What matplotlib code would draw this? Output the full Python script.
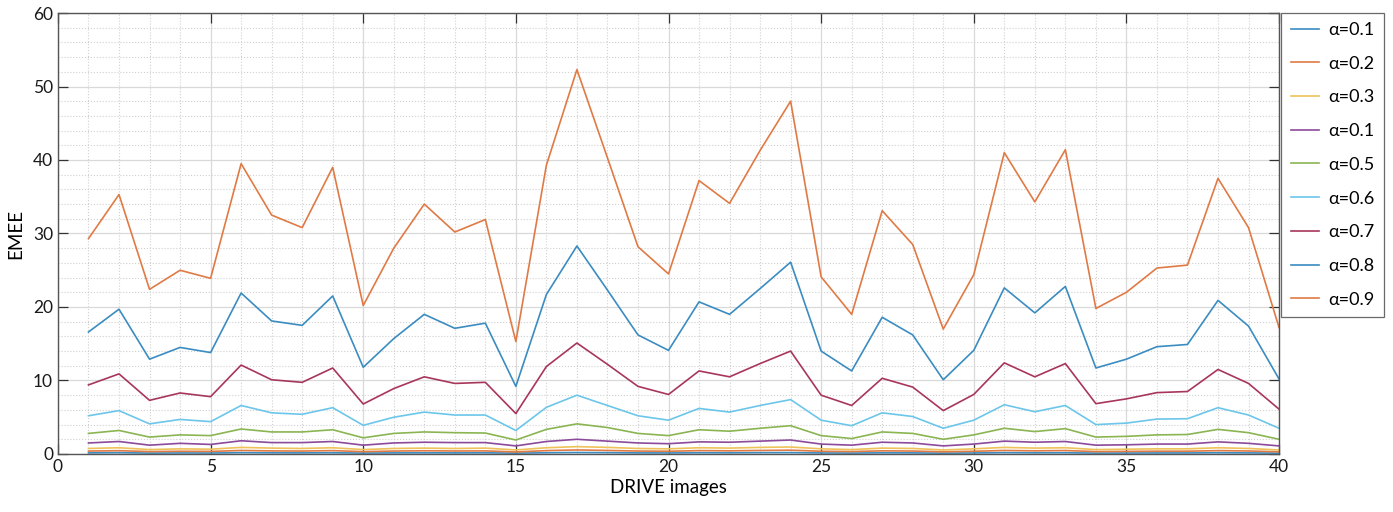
import numpy as np
import matplotlib
matplotlib.use("Agg")
import matplotlib.pyplot as plt
from matplotlib.ticker import MultipleLocator

plt.rcParams['font.family'] = ['Lato', 'DejaVu Sans']

# image index on the x axis
images = list(range(1, 41))

# EMEE per image for each alpha
a01 = [0.15, 0.18, 0.12, 0.14, 0.13, 0.18, 0.16, 0.15, 0.17, 0.12,
       0.15, 0.16, 0.15, 0.16, 0.11, 0.17, 0.20, 0.18, 0.15, 0.14,
       0.17, 0.16, 0.18, 0.19, 0.14, 0.12, 0.16, 0.15, 0.11, 0.14,
       0.18, 0.16, 0.17, 0.12, 0.13, 0.14, 0.14, 0.17, 0.15, 0.11]
a02 = [0.40, 0.45, 0.33, 0.37, 0.35, 0.48, 0.42, 0.40, 0.46, 0.32,
       0.40, 0.44, 0.41, 0.42, 0.28, 0.46, 0.55, 0.48, 0.40, 0.37,
       0.46, 0.43, 0.48, 0.52, 0.37, 0.33, 0.43, 0.40, 0.30, 0.37,
       0.48, 0.43, 0.47, 0.33, 0.35, 0.38, 0.38, 0.46, 0.41, 0.30]
a03 = [0.75, 0.85, 0.60, 0.70, 0.65, 0.90, 0.80, 0.75, 0.85, 0.60,
       0.75, 0.80, 0.75, 0.80, 0.55, 0.85, 1.00, 0.90, 0.75, 0.70,
       0.85, 0.80, 0.90, 0.95, 0.70, 0.60, 0.80, 0.75, 0.55, 0.70,
       0.90, 0.80, 0.85, 0.60, 0.65, 0.70, 0.70, 0.85, 0.75, 0.55]
a04 = [1.50, 1.70, 1.20, 1.45, 1.30, 1.80, 1.55, 1.55, 1.70, 1.20,
       1.50, 1.60, 1.55, 1.55, 1.10, 1.70, 2.00, 1.75, 1.50, 1.40,
       1.65, 1.60, 1.75, 1.90, 1.35, 1.20, 1.60, 1.50, 1.10, 1.35,
       1.75, 1.60, 1.70, 1.20, 1.25, 1.35, 1.35, 1.65, 1.45, 1.10]
a05 = [2.80, 3.20, 2.30, 2.60, 2.50, 3.40, 3.00, 3.00, 3.30, 2.20,
       2.80, 3.00, 2.90, 2.85, 1.90, 3.35, 4.10, 3.60, 2.80, 2.50,
       3.30, 3.10, 3.50, 3.85, 2.50, 2.10, 3.00, 2.80, 2.00, 2.60,
       3.50, 3.05, 3.45, 2.30, 2.40, 2.60, 2.65, 3.35, 2.90, 2.00]
a06 = [5.2, 5.9, 4.1, 4.7, 4.4, 6.6, 5.6, 5.4, 6.3, 3.9,
       5.0, 5.7, 5.3, 5.3, 3.2, 6.35, 8.0, 6.6, 5.2, 4.6,
       6.2, 5.7, 6.6, 7.4, 4.6, 3.85, 5.6, 5.1, 3.5, 4.6,
       6.7, 5.75, 6.6, 4.0, 4.2, 4.75, 4.8, 6.3, 5.3, 3.5]
a07 = [9.4, 10.9, 7.3, 8.3, 7.8, 12.1, 10.1, 9.75, 11.7, 6.8,
       8.9, 10.5, 9.6, 9.75, 5.5, 11.9, 15.1, 12.2, 9.2, 8.1,
       11.3, 10.5, 12.3, 14.0, 8.0, 6.6, 10.3, 9.1, 5.9, 8.1,
       12.4, 10.5, 12.3, 6.85, 7.5, 8.35, 8.5, 11.5, 9.6, 6.1]
a08 = [16.6, 19.7, 12.9, 14.5, 13.8, 21.9, 18.1, 17.5, 21.5, 11.8,
       15.7, 19.0, 17.1, 17.8, 9.2, 21.7, 28.3, 22.3, 16.2, 14.1,
       20.7, 19.0, 22.5, 26.1, 14.0, 11.3, 18.6, 16.2, 10.1, 14.1,
       22.6, 19.2, 22.8, 11.7, 12.9, 14.6, 14.9, 20.9, 17.4, 10.2]
a09 = [29.3, 35.3, 22.4, 25.0, 23.9, 39.5, 32.5, 30.8, 39.0, 20.2,
       28.0, 34.0, 30.2, 31.9, 15.3, 39.3, 52.3, 40.3, 28.2, 24.5,
       37.2, 34.1, 41.3, 48.0, 24.1, 19.0, 33.1, 28.5, 17.0, 24.4,
       41.0, 34.3, 41.4, 19.8, 22.0, 25.3, 25.7, 37.5, 30.8, 17.2]

labels = ['α=0.1', 'α=0.2', 'α=0.3', 'α=0.1', 'α=0.5',
          'α=0.6', 'α=0.7', 'α=0.8', 'α=0.9']
series = [a01, a02, a03, a04, a05, a06, a07, a08, a09]
colors = ['#3a8cc1', '#e07a45', '#eec25a', '#8c4a9a', '#8ab552',
          '#6cc6ea', '#a8365a', '#3a8cc1', '#e07a45']

fig = plt.figure(figsize=(13.93, 5.12), dpi=100)
ax = fig.add_axes([0.0416, 0.1133, 0.8766, 0.8613])

for vals, lab, c in zip(series, labels, colors):
    ax.plot(images, vals, color=c, lw=1.2, label=lab)

ax.set_xlim(0, 40)
ax.set_ylim(0, 60)
ax.xaxis.set_major_locator(MultipleLocator(5))
ax.xaxis.set_minor_locator(MultipleLocator(1))
ax.yaxis.set_major_locator(MultipleLocator(10))
ax.yaxis.set_minor_locator(MultipleLocator(2))

ax.grid(which='major', color='#d9d9d9', lw=0.9, ls='-')
ax.grid(which='minor', color='#d0d0d0', lw=0.8, ls=':')
ax.set_axisbelow(True)

ax.tick_params(which='major', direction='in', length=7, width=0.9,
               top=True, right=True, labelsize=12.5, colors='#333333',
               labelcolor='#1a1a1a')
ax.tick_params(which='minor', length=0, top=True, right=True)
for s in ax.spines.values():
    s.set_color('#555555')
    s.set_linewidth(1.0)

ax.set_xlabel('DRIVE images', fontsize=13.5, labelpad=3)
ax.set_ylabel('EMEE', fontsize=13.5, labelpad=6)

leg = ax.legend(loc='upper left', bbox_to_anchor=(1.002, 1.0),
                fontsize=13, frameon=True, fancybox=False,
                edgecolor='#444444', handlelength=1.6, handletextpad=0.5,
                labelspacing=0.98, borderpad=0.5, borderaxespad=0)
leg.get_frame().set_linewidth(0.9)

fig.savefig('out.png', dpi=100)
